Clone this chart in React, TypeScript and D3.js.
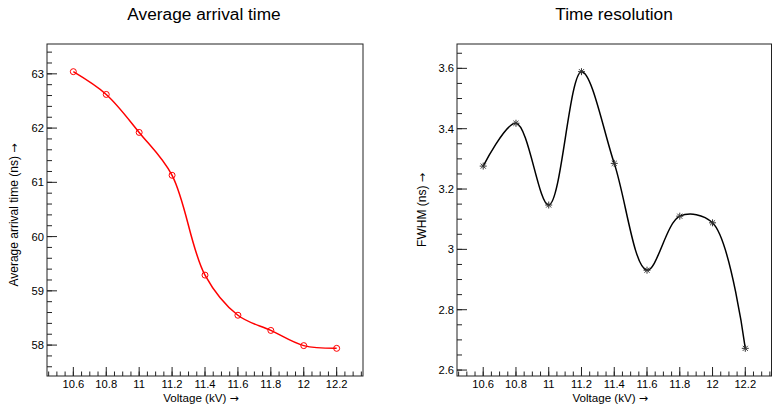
import React from "react";
import * as d3 from "d3";

const voltage = [10.6, 10.8, 11.0, 11.2, 11.4, 11.6, 11.8, 12.0, 12.2];
const arrivalTime = [63.04, 62.62, 61.92, 61.13, 59.29, 58.55, 58.27, 57.99, 57.94];
const fwhm = [3.276, 3.418, 3.147, 3.589, 3.285, 2.931, 3.11, 3.088, 2.672];

const xTickLabels = [10.6, 10.8, 11.0, 11.2, 11.4, 11.6, 11.8, 12.0, 12.2];
const leftYTicks = [58, 59, 60, 61, 62, 63];
const rightYTicks = [2.6, 2.8, 3.0, 3.2, 3.4, 3.6];

const FONT = "'Liberation Sans', Arial, Helvetica, sans-serif";
const ARROW_FONT = "'DejaVu Sans', sans-serif";

function rootRange(v: number[]): [number, number] {
  const mn = d3.min(v)!;
  const mx = d3.max(v)!;
  const d = mx - mn;
  return [mn - 0.1 * d, mx + 0.1 * d];
}

function minorTicks(domain: [number, number], step: number): number[] {
  const out: number[] = [];
  const s = Math.ceil(domain[0] / step - 1e-9);
  const e = Math.floor(domain[1] / step + 1e-9);
  for (let i = s; i <= e; i++) out.push(+(i * step).toFixed(6));
  return out;
}

function fmt(v: number) {
  return String(+v.toFixed(2));
}

type PanelProps = {
  x0: number;
  x1: number;
  y0: number;
  y1: number;
  title: string;
  titleX: number;
  ys: number[];
  yTicks: number[];
  yMinorStep: number;
  yTitle: string;
  yTitleX: number;
  yTitleY: number;
  color: string;
  marker: "circle" | "star";
};

function Panel(p: PanelProps) {
  const xDom = rootRange(voltage);
  const yDom = rootRange(p.ys);
  const x = d3.scaleLinear().domain(xDom).range([p.x0, p.x1]);
  const y = d3.scaleLinear().domain(yDom).range([p.y1, p.y0]);
  const line = d3
    .line<number>()
    .x((_, i) => x(voltage[i]))
    .y((d) => y(d))
    .curve(d3.curveCatmullRom.alpha(0.5));
  const xMinor = minorTicks(xDom, 0.05);
  const yMinor = minorTicks(yDom, p.yMinorStep);
  const axisCol = "#222";
  return (
    <g>
      <text x={p.titleX} y={20} textAnchor="middle" fontFamily={FONT} fontSize={17.3} fill="#000">
        {p.title}
      </text>
      <path d={line(p.ys) || ""} fill="none" stroke={p.color} strokeWidth={1.5} />
      {p.ys.map((v, i) => {
        const cx = x(voltage[i]);
        const cy = y(v);
        if (p.marker === "circle") {
          return <circle key={i} cx={cx} cy={cy} r={3} fill="none" stroke={p.color} strokeWidth={1} />;
        }
        const r = 3.5;
        const r2 = r * 0.72;
        return (
          <g key={i} stroke="#333" strokeWidth={1}>
            <line x1={cx - r} y1={cy} x2={cx + r} y2={cy} />
            <line x1={cx} y1={cy - r} x2={cx} y2={cy + r} />
            <line x1={cx - r2} y1={cy - r2} x2={cx + r2} y2={cy + r2} />
            <line x1={cx - r2} y1={cy + r2} x2={cx + r2} y2={cy - r2} />
          </g>
        );
      })}
      <rect x={p.x0} y={p.y0} width={p.x1 - p.x0} height={p.y1 - p.y0} fill="none" stroke={axisCol} strokeWidth={1} />
      {xMinor.map((t, i) => (
        <line key={"xm" + i} x1={x(t)} x2={x(t)} y1={p.y1} y2={p.y1 - 4.5} stroke={axisCol} strokeWidth={1} />
      ))}
      {xTickLabels.map((t, i) => (
        <g key={"xt" + i}>
          <line x1={x(t)} x2={x(t)} y1={p.y1} y2={p.y1 - 9} stroke={axisCol} strokeWidth={1} />
          <text x={x(t)} y={p.y1 + 12} textAnchor="middle" fontFamily={FONT} fontSize={11.2} fill="#000">
            {fmt(t)}
          </text>
        </g>
      ))}
      {yMinor.map((t, i) => (
        <line key={"ym" + i} x1={p.x0} x2={p.x0 + 5} y1={y(t)} y2={y(t)} stroke={axisCol} strokeWidth={1} />
      ))}
      {p.yTicks.map((t, i) => (
        <g key={"yt" + i}>
          <line x1={p.x0} x2={p.x0 + 10} y1={y(t)} y2={y(t)} stroke={axisCol} strokeWidth={1} />
          <text x={p.x0 - 3} y={y(t) + 4} textAnchor="end" fontFamily={FONT} fontSize={11.2} fill="#000">
            {fmt(t)}
          </text>
        </g>
      ))}
      <text x={(p.x0 + p.x1) / 2 - 4} y={401.5} textAnchor="middle" fontFamily={FONT} fontSize={11.6} fill="#000">
        Voltage (kV) <tspan fontFamily={ARROW_FONT} fontSize={11}>→</tspan>
      </text>
      <text
        transform={`translate(${p.yTitleX},${p.yTitleY}) rotate(-90)`}
        textAnchor="middle"
        fontFamily={FONT}
        fontSize={12}
        fill="#000"
      >
        {p.yTitle} <tspan fontFamily={ARROW_FONT} fontSize={11}>→</tspan>
      </text>
    </g>
  );
}

export default function App() {
  return (
    <svg width={773} height={404} style={{ position: "absolute", left: 0, top: 0, background: "#fff" }}>
      <rect x={0} y={0} width={773} height={404} fill="#fff" />
      <Panel
        x0={47}
        x1={363}
        y0={44}
        y1={376}
        title="Average arrival time"
        titleX={204}
        ys={arrivalTime}
        yTicks={leftYTicks}
        yMinorStep={0.2}
        yTitle="Average arrival time (ns)"
        yTitleX={18}
        yTitleY={215}
        color="#ff0000"
        marker="circle"
      />
      <Panel
        x0={457}
        x1={771.5}
        y0={44}
        y1={376}
        title="Time resolution"
        titleX={614}
        ys={fwhm}
        yTicks={rightYTicks}
        yMinorStep={0.05}
        yTitle="FWHM (ns)"
        yTitleX={426}
        yTitleY={210}
        color="#000000"
        marker="star"
      />
    </svg>
  );
}
